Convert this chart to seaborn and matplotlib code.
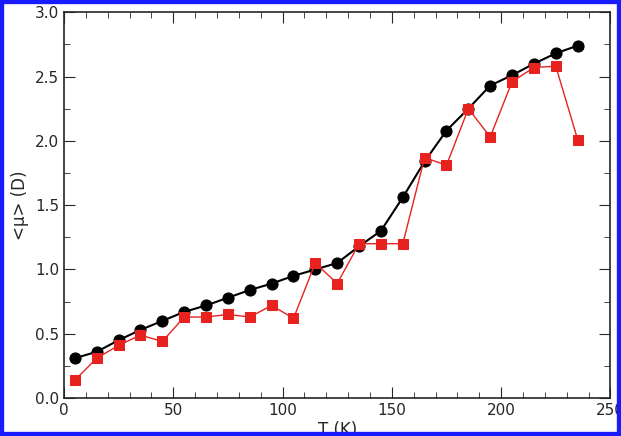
import numpy as np
import matplotlib
matplotlib.use("Agg")
import matplotlib.pyplot as plt
import seaborn as sns

temps = [5, 15, 25, 35, 45, 55, 65, 75, 85, 95, 105, 115,
         125, 135, 145, 155, 165, 175, 185, 195, 205, 215, 225, 235]
mu_black = [0.31, 0.36, 0.45, 0.53, 0.60, 0.67, 0.72, 0.78, 0.84, 0.89, 0.95, 1.00,
            1.05, 1.18, 1.30, 1.56, 1.84, 2.08, 2.25, 2.43, 2.51, 2.60, 2.68, 2.74]
mu_red = [0.14, 0.31, 0.41, 0.49, 0.44, 0.63, 0.63, 0.65, 0.63, 0.72, 0.62, 1.05,
          0.89, 1.20, 1.20, 1.20, 1.87, 1.81, 2.25, 2.03, 2.46, 2.57, 2.58, 2.01]

sns.set_style("ticks")
fig = plt.figure(figsize=(6.21, 4.36), dpi=100)
ax = fig.add_axes([0.103, 0.087, 0.880, 0.885])

sns.lineplot(x=temps, y=mu_black, ax=ax, color="black", marker="o",
             markersize=8, markeredgecolor="black", linewidth=1.5)
sns.lineplot(x=temps, y=mu_red, ax=ax, color="#e8221e", marker="s",
             markersize=7, markeredgecolor="#e8221e", linewidth=1)

ax.set_xlim(0, 250)
ax.set_ylim(0, 3.0)
ax.set_xticks(np.arange(0, 251, 50))
ax.set_yticks(np.arange(0, 3.01, 0.5))
ax.set_yticklabels([f"{v:.1f}" for v in np.arange(0, 3.01, 0.5)])
ax.xaxis.set_minor_locator(matplotlib.ticker.MultipleLocator(10))
ax.yaxis.set_minor_locator(matplotlib.ticker.MultipleLocator(0.25))
ax.tick_params(which="both", direction="in", top=True, right=True, labelsize=11)
ax.tick_params(which="major", length=8)
ax.tick_params(which="minor", length=4)
for s in ax.spines.values():
    s.set_linewidth(1.2)
ax.set_xlabel("T (K)", fontsize=12, labelpad=2)
ax.set_ylabel("<μ> (D)", fontsize=12)

fig.patches.append(plt.Rectangle((0, 0), 1, 1, transform=fig.transFigure,
                                 fill=False, edgecolor="#1a1aff", linewidth=6))
fig.savefig("out.png", dpi=100)
